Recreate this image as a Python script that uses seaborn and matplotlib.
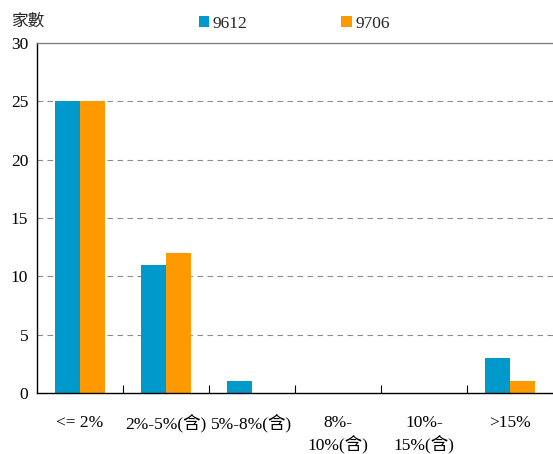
import matplotlib
matplotlib.use("Agg")
import matplotlib.pyplot as plt
import seaborn as sns
import pandas as pd

# Category labels (x axis) and the two survey periods
categories = ["<= 2%", "2%-5%(含)", "5%-8%(含)", "8%-\n10%(含)", "10%-\n15%(含)", ">15%"]
series_names = ["9612", "9706"]
values_9612 = [25, 11, 1, 0, 0, 3]
values_9706 = [25, 12, 0, 0, 0, 1]
y_ticks = [0, 5, 10, 15, 20, 25, 30]
colors = ["#0099CC", "#FF9900"]

df = pd.DataFrame({
    "category": categories * 2,
    "period": [series_names[0]] * len(categories) + [series_names[1]] * len(categories),
    "count": values_9612 + values_9706,
})

sns.set_theme(style="white")
plt.rcParams["font.family"] = ["Liberation Serif", "Noto Sans CJK TC"]
plt.rcParams["font.size"] = 12.5

fig = plt.figure(figsize=(5.53, 4.54), dpi=100)
ax = fig.add_axes([37 / 553, 1 - 393 / 454, 1 - 37 / 553, (393 - 43) / 454])

sns.barplot(data=df, x="category", y="count", hue="period", order=categories,
            hue_order=series_names, palette=colors, width=0.58, saturation=1,
            edgecolor="none", linewidth=0, ax=ax)

ax.set_xlim(-0.5, len(categories) - 0.5)
ax.set_ylim(0, 30)
ax.set_yticks(y_ticks)
ax.set_xlabel("")
ax.set_ylabel("")

# dashed horizontal grid
for yv in y_ticks[1:-1]:
    ax.axhline(yv, color="#8c8c8c", linestyle=(0, (5, 4)), linewidth=0.8, zorder=0)
ax.set_axisbelow(True)

# spines
ax.spines["right"].set_visible(False)
ax.spines["top"].set_color("#808080")
ax.spines["top"].set_linewidth(1.0)
for s in ("left", "bottom"):
    ax.spines[s].set_color("black")
    ax.spines[s].set_linewidth(1.0)

# ticks: labels at category centres, small inward ticks on boundaries
ax.tick_params(axis="y", length=0, pad=6.3, labelsize=12.5, colors="black")
ax.tick_params(axis="x", which="major", length=0, pad=16, labelsize=12.5, colors="black")
ax.set_xticks([i + 0.5 for i in range(len(categories) - 1)], minor=True)
ax.tick_params(axis="x", which="minor", direction="in", length=6, width=0.8, color="black", bottom=True)
for lbl in ax.get_xticklabels():
    lbl.set_linespacing(1.35)
    lbl.set_verticalalignment("top")

# legend across the top
handles, labels = ax.get_legend_handles_labels()
ax.get_legend().remove()
fig.legend(handles, labels, ncol=2, loc="upper left",
           bbox_to_anchor=(199 / 553, 1 - 16 / 454), frameon=False,
           borderpad=0, borderaxespad=0, handlelength=0.6, handleheight=0.6,
           handletextpad=0.2, columnspacing=5.4, fontsize=12.5)

fig.text(12 / 553, 1 - 22 / 454, "家數", ha="left", va="center", fontsize=12)

fig.savefig("out.png", dpi=100)
